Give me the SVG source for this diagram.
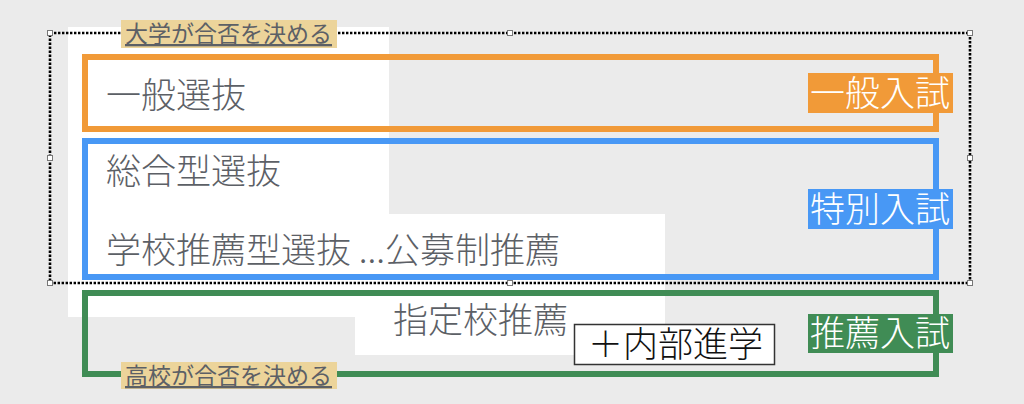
<svg xmlns="http://www.w3.org/2000/svg" width="1024" height="404" viewBox="0 0 1024 404">
<style>
.t{font-family:"Noto Sans CJK JP","Noto Sans",sans-serif;font-weight:300;}
.main{font-size:35px;fill:#5c6066;}
.lbl{font-size:35px;fill:#ffffff;}
.tan{font-size:23px;fill:#5c6066;text-decoration:underline;font-weight:400;}
.frame{fill:none;stroke-width:6;}
.handle{fill:#ffffff;stroke:#777777;stroke-width:1;}
</style>
<rect x="0" y="0" width="1024" height="404" fill="#ebebeb"/>
<g id="paper">
<polygon points="68,27 389,27 389,214 665,214 665,355 355,355 355,317 68,317" fill="#ffffff"/>
</g>
<g id="selection">
<rect x="50" y="33" width="920" height="250" fill="none" stroke="#000000" stroke-width="2.6" stroke-dasharray="2.4 1.6"/>
<rect class="handle" x="47.5" y="30.5" width="5" height="5"/>
<rect class="handle" x="507.5" y="30.5" width="5" height="5"/>
<rect class="handle" x="967.5" y="30.5" width="5" height="5"/>
<rect class="handle" x="47.5" y="155.5" width="5" height="5"/>
<rect class="handle" x="967.5" y="155.5" width="5" height="5"/>
<rect class="handle" x="47.5" y="280.5" width="5" height="5"/>
<rect class="handle" x="507.5" y="280.5" width="5" height="5"/>
<rect class="handle" x="967.5" y="280.5" width="5" height="5"/>
</g>
<g id="general">
<rect class="frame" x="85" y="57" width="851" height="72" stroke="#f19a38"/>
<text class="t main" x="106" y="108">一般選抜</text>
<rect x="808" y="73" width="145" height="40" fill="#f19a38"/>
<text class="t lbl" x="810" y="106">一般入試</text>
</g>
<g id="special">
<rect class="frame" x="85" y="141" width="851" height="136" stroke="#4898f5" stroke-width="5.5"/>
<text class="t main" x="106" y="184">総合型選抜</text>
<text class="t main" x="106" y="263">学校推薦型選抜 ...公募制推薦</text>
<rect x="808" y="189" width="145" height="40" fill="#4898f5"/>
<text class="t lbl" x="810" y="222">特別入試</text>
</g>
<g id="recommend">
<rect class="frame" x="85" y="293" width="851" height="81" stroke="#408c55"/>
<text class="t main" x="393" y="333">指定校推薦</text>
<rect x="808" y="314" width="145" height="39" fill="#408c55"/>
<text class="t lbl" x="810" y="346">推薦入試</text>
</g>
<g id="internal">
<rect x="574.5" y="324.5" width="200" height="40" fill="#ffffff" stroke="#333333" stroke-width="1.5"/>
<text class="t" x="588" y="357" font-size="35" fill="#111111">＋内部進学</text>
</g>
<g id="univ-note">
<rect x="121" y="20" width="216" height="28" fill="#ecd49a"/>
<text class="t tan" x="125" y="42">大学が合否を決める</text>
</g>
<g id="hs-note">
<rect x="121" y="362" width="216" height="27" fill="#ecd49a"/>
<text class="t tan" x="125" y="384">高校が合否を決める</text>
</g>
<g id="connectors"/>
</svg>
